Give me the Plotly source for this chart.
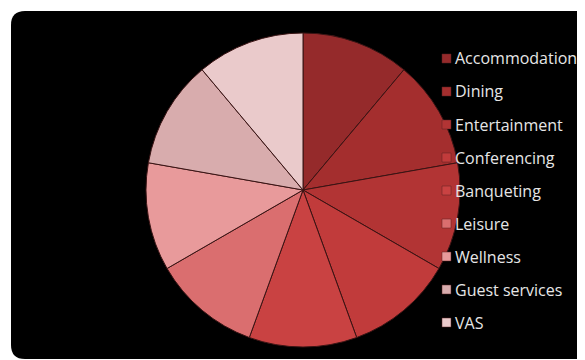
import plotly.graph_objects as go

# ---- data ----
categories = ["Accommodation", "Dining", "Entertainment", "Conferencing", "Banqueting",
              "Leisure", "Wellness", "Guest services", "VAS"]
shares = [11.1, 11.1, 11.1, 11.1, 11.1, 11.1, 11.1, 11.1, 11.1]
slice_colors = ["#952A2B", "#A42E2E", "#B23434", "#C13B3B", "#C94242",
                "#DA6E6F", "#E89A9B", "#D8ACAD", "#EACACB"]

# page body has an 8px margin; figure sized to fit the window
OFF = 8
W, H = 577, 352

def px(x):
    return (x - OFF) / W

def py(y):
    return 1 - (y - OFF) / H

fig = go.Figure()

fig.add_trace(go.Pie(
    labels=categories,
    values=shares,
    sort=False,
    direction="clockwise",
    rotation=0,
    textinfo="none",
    hoverinfo="label+percent",
    marker=dict(colors=slice_colors, line=dict(color="#3a1414", width=1)),
    domain=dict(x=[px(303 - 157), px(303 + 157)], y=[py(190 + 157), py(190 - 157)]),
    showlegend=False,
))

# black rounded background panel
r = 14
x0, y0, x1, y1 = 11, 11, 600, 359
path = (
    f"M {px(x0 + r)},{py(y0)} L {px(x1)},{py(y0)} L {px(x1)},{py(y1)} "
    f"L {px(x0 + r)},{py(y1)} Q {px(x0)},{py(y1)} {px(x0)},{py(y1 - r)} "
    f"L {px(x0)},{py(y0 + r)} Q {px(x0)},{py(y0)} {px(x0 + r)},{py(y0)} Z"
)
shapes = [dict(type="path", path=path, xref="paper", yref="paper",
               fillcolor="#000000", line=dict(width=0), layer="below")]

# legend built from the data arrays
annotations = []
top, step, sq = 58.5, 33, 9
for i, (lab, col) in enumerate(zip(categories, slice_colors)):
    cy = top + i * step
    shapes.append(dict(type="rect", xref="paper", yref="paper",
                       x0=px(442), x1=px(442 + sq), y0=py(cy + sq / 2), y1=py(cy - sq / 2),
                       fillcolor=col, line=dict(color="#5a2020", width=0.5), layer="above"))
    annotations.append(dict(text=lab, xref="paper", yref="paper", x=px(453), y=py(cy),
                            xanchor="left", yanchor="middle", showarrow=False,
                            font=dict(family="Open Sans", size=16, color="#E6E6E6")))

fig.update_layout(
    width=W, height=H,
    margin=dict(l=0, r=0, t=0, b=0),
    paper_bgcolor="#FFFFFF",
    plot_bgcolor="#FFFFFF",
    shapes=shapes,
    annotations=annotations,
    showlegend=False,
)

fig.write_html("out.html")
